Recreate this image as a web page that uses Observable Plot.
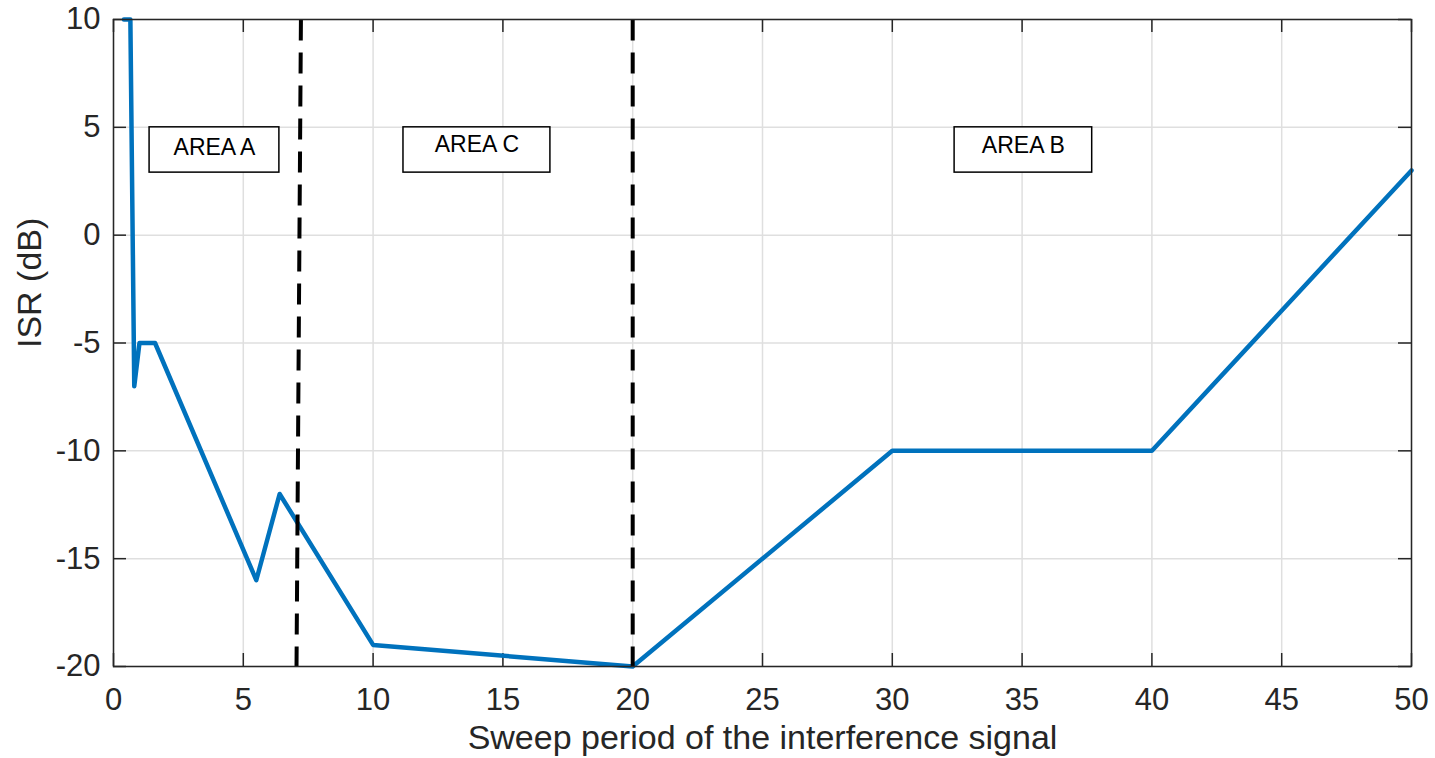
<!DOCTYPE html>
<html><head><meta charset="utf-8">
<script src="https://cdn.jsdelivr.net/npm/d3@7"></script>
<script src="https://cdn.jsdelivr.net/npm/@observablehq/plot@0.6"></script>
<style>body{margin:0;background:#fff;}</style>
</head><body><div id="chart"></div>
<script>
// Curve data
const sweepPeriod = [0.4, 0.65, 0.8, 1.0, 1.6, 5.5, 6.4, 10, 20, 30, 40, 50];
const isr = [10, 10, -7, -5, -5, -16, -12, -19, -20, -10, -10, 3];
// Ticks
const xTicks = [0, 5, 10, 15, 20, 25, 30, 35, 40, 45, 50];
const yTicks = [-20, -15, -10, -5, 0, 5, 10];
// Boundaries (dashed)
const boundaryTopX = [7.22, 20];
const boundaryBottomX = [7.05, 20];
// Area annotations
const areaLabels = ["AREA A", "AREA C", "AREA B"];
const areaX1 = [1.39, 11.17, 32.4];
const areaX2 = [6.39, 16.83, 37.7];
const areaY1 = [2.9, 2.9, 2.9];
const areaY2 = [5.0, 5.0, 5.0];
const areaTextY = [4.07, 4.2, 4.16];

const curve = sweepPeriod.map((x, i) => ({x, y: isr[i]}));
const boundaries = boundaryTopX.map((x, i) => ({xt: x, xb: boundaryBottomX[i]}));
const areas = areaLabels.map((label, i) => ({label, x1: areaX1[i], x2: areaX2[i], y1: areaY1[i], y2: areaY2[i], ty: areaTextY[i]}));

const ink = "#262626";
const gridColor = "#dfdfdf";

const chart = Plot.plot({
  width: 1435, height: 758,
  marginLeft: 113, marginRight: 24, marginTop: 19, marginBottom: 92,
  x: {domain: [0, 50]},
  y: {domain: [-20, 10]},
  style: {fontFamily: "'Liberation Sans', Arial, sans-serif", color: ink, background: "#fff"},
  marks: [
    Plot.gridX(xTicks, {stroke: gridColor, strokeOpacity: 1, strokeWidth: 1.5}),
    Plot.gridY(yTicks, {stroke: gridColor, strokeOpacity: 1, strokeWidth: 1.5}),
    // inward ticks on four sides
    Plot.ruleX(xTicks, {x: d => d, y1: -20, y2: -20, insetTop: -13, stroke: ink, strokeWidth: 1.5}),
    Plot.ruleX(xTicks, {x: d => d, y1: 10, y2: 10, insetBottom: -13, stroke: ink, strokeWidth: 1.5}),
    Plot.ruleY(yTicks, {y: d => d, x1: 0, x2: 0, insetRight: -13, stroke: ink, strokeWidth: 1.5}),
    Plot.ruleY(yTicks, {y: d => d, x1: 50, x2: 50, insetLeft: -13, stroke: ink, strokeWidth: 1.5}),
    Plot.axisX(xTicks, {anchor: "bottom", tickSize: 0, tickPadding: 21, fontSize: 31, label: null, fill: ink, tickFormat: d => String(d)}),
    Plot.axisY(yTicks, {anchor: "left", tickSize: 0, tickPadding: 13, fontSize: 31, label: null, fill: ink, tickFormat: d => String(d)}),
    Plot.line(curve, {x: "x", y: "y", stroke: "#0072BD", strokeWidth: 4.5, strokeLinejoin: "round"}),
    Plot.link(boundaries, {x1: "xt", y1: () => 10, x2: "xb", y2: () => -20, stroke: "#000", strokeWidth: 4, strokeDasharray: "21,12"}),
    Plot.rect(areas, {x1: "x1", x2: "x2", y1: "y1", y2: "y2", fill: "#fff", stroke: "#000", strokeWidth: 1.5}),
    Plot.text(areas, {x: d => (d.x1 + d.x2) / 2, y: "ty", text: "label", fontSize: 23, fill: "#000"}),
    Plot.frame({stroke: ink, strokeWidth: 1.5}),
    Plot.text(["Sweep period of the interference signal"], {text: d => d, frameAnchor: "bottom", lineAnchor: "top", dy: 58, fontSize: 34, fill: ink}),
    Plot.text(["ISR (dB)"], {text: d => d, frameAnchor: "left", rotate: -90, dx: -83, dy: 5, fontSize: 34, fill: ink})
  ]
});
document.getElementById("chart").appendChild(chart);
</script>
</body></html>
